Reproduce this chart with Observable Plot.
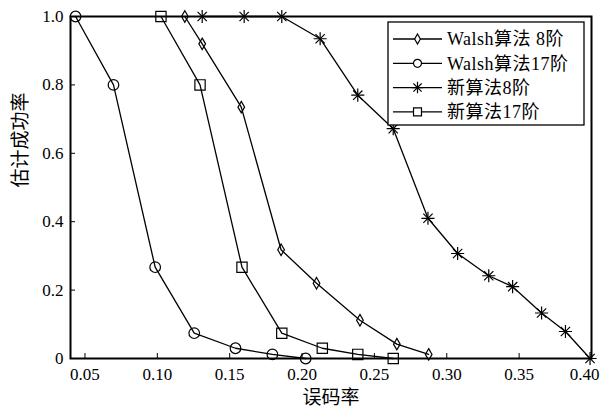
<!DOCTYPE html>
<html><head><meta charset="utf-8">
<script src="https://cdn.jsdelivr.net/npm/d3@7"></script>
<script src="https://cdn.jsdelivr.net/npm/@observablehq/plot@0.6"></script>
<style>body{margin:0;background:#fff} svg{display:block}</style>
</head><body><div id="chart"></div>
<script>
const seriesNames = ["Walsh算法 8阶", "Walsh算法17阶", "新算法8阶", "新算法17阶"];
const walsh8X  = [0.119, 0.131, 0.158, 0.1855, 0.210, 0.240, 0.2655, 0.2875];
const walsh8Y  = [1.0, 0.92, 0.735, 0.318, 0.22, 0.112, 0.042, 0.012];
const walsh17X = [0.0435, 0.0697, 0.0985, 0.1255, 0.154, 0.1795, 0.2025];
const walsh17Y = [1.0, 0.8, 0.267, 0.074, 0.03, 0.012, 0.0];
const new8X    = [0.131, 0.160, 0.186, 0.2125, 0.2385, 0.263, 0.287, 0.3075, 0.329, 0.3455, 0.3655, 0.382, 0.399];
const new8Y    = [1.0, 1.0, 1.0, 0.935, 0.77, 0.672, 0.41, 0.307, 0.242, 0.21, 0.133, 0.079, 0.0];
const new17X   = [0.1025, 0.1295, 0.1585, 0.186, 0.214, 0.2385, 0.263];
const new17Y   = [1.0, 0.8, 0.267, 0.074, 0.03, 0.012, 0.0];
const xTicks = [0.05, 0.10, 0.15, 0.20, 0.25, 0.30, 0.35, 0.40];
const yTicks = [0, 0.2, 0.4, 0.6, 0.8, 1.0];
const xLabel = "误码率";
const yLabel = "估计成功率";

function rows(name, xs, ys) { return xs.map((x, i) => ({series: name, x, y: ys[i]})); }
const w8 = rows(seriesNames[0], walsh8X, walsh8Y);
const w17 = rows(seriesNames[1], walsh17X, walsh17Y);
const n8 = rows(seriesNames[2], new8X, new8Y);
const n17 = rows(seriesNames[3], new17X, new17Y);

const font = "'Liberation Serif','Times New Roman','Noto Sans CJK SC',serif";
const ln = {x: "x", y: "y", stroke: "black", strokeWidth: 1.3};
const dt = (sym, r) => ({x: "x", y: "y", symbol: sym, r, stroke: "black", fill: "none", strokeWidth: 1.2});
const fmtX = d => d.toFixed(2);

const plot = Plot.plot({
  width: 603, height: 416,
  marginLeft: 70, marginRight: 12, marginTop: 16, marginBottom: 58,
  style: {fontFamily: font, fontSize: "17px", background: "white", color: "black"},
  x: {domain: [0.04, 0.40]},
  y: {domain: [0, 1]},
  marks: [
    Plot.axisX(xTicks, {tickSize: -5, text: null, label: null}),
    Plot.axisX(xTicks.slice(0, -1), {tickSize: 0, tickPadding: 9, tickFormat: fmtX, label: null}),
    Plot.axisX(xTicks.slice(-1), {tickSize: 0, tickPadding: 9, tickFormat: fmtX, label: null, dx: -7}),
    Plot.axisY(yTicks, {tickSize: -5, tickPadding: 12, tickFormat: d => d === 0 ? "0" : d.toFixed(1), label: null}),
    Plot.line(w8, ln), Plot.dot(w8, dt("diamond", 3.5)),
    Plot.line(w17, ln), Plot.dot(w17, dt("circle", 5.3)),
    Plot.line(n8, ln), Plot.dot(n8, dt("plus", 4.3)), Plot.dot(n8, dt("times", 4.3)),
    Plot.line(n17, ln), Plot.dot(n17, dt("square", 5.8)),
    Plot.frame({stroke: "black", strokeWidth: 2}),
    Plot.text([xLabel], {frameAnchor: "bottom", dy: 45, text: d => d, fontSize: 19}),
    Plot.text([yLabel], {frameAnchor: "left", dx: -50, rotate: -90, text: d => d, fontSize: 19})
  ]
});
document.getElementById("chart").appendChild(plot);

// legend inside the plot frame
const svg = d3.select(plot);
const lg = svg.append("g").attr("font-family", font).attr("font-size", "18px").attr("text-anchor", "start");
lg.append("rect").attr("x", 388).attr("y", 22).attr("width", 196).attr("height", 103)
  .attr("fill", "white").attr("stroke", "black").attr("stroke-width", 1.3);
const legSyms = [[d3.symbolDiamond], [d3.symbolCircle], [d3.symbolPlus, d3.symbolTimes], [d3.symbolSquare]];
const legR = [3, 4, 3.8, 4.5];
seriesNames.forEach((name, i) => {
  const yy = 39 + i * 24.3;
  lg.append("line").attr("x1", 393).attr("x2", 442).attr("y1", yy).attr("y2", yy)
    .attr("stroke", "black").attr("stroke-width", 1.3);
  legSyms[i].forEach(s => {
    lg.append("path").attr("d", d3.symbol(s, Math.PI * legR[i] * legR[i])())
      .attr("transform", `translate(417.5,${yy})`)
      .attr("fill", s === d3.symbolPlus || s === d3.symbolTimes ? "none" : "white")
      .attr("stroke", "black").attr("stroke-width", 1.2);
  });
  lg.append("text").attr("x", 447).attr("y", yy).attr("dy", "0.35em").attr("fill", "black")
    .attr("letter-spacing", "0.5px").text(name);
});
</script>
</body></html>
